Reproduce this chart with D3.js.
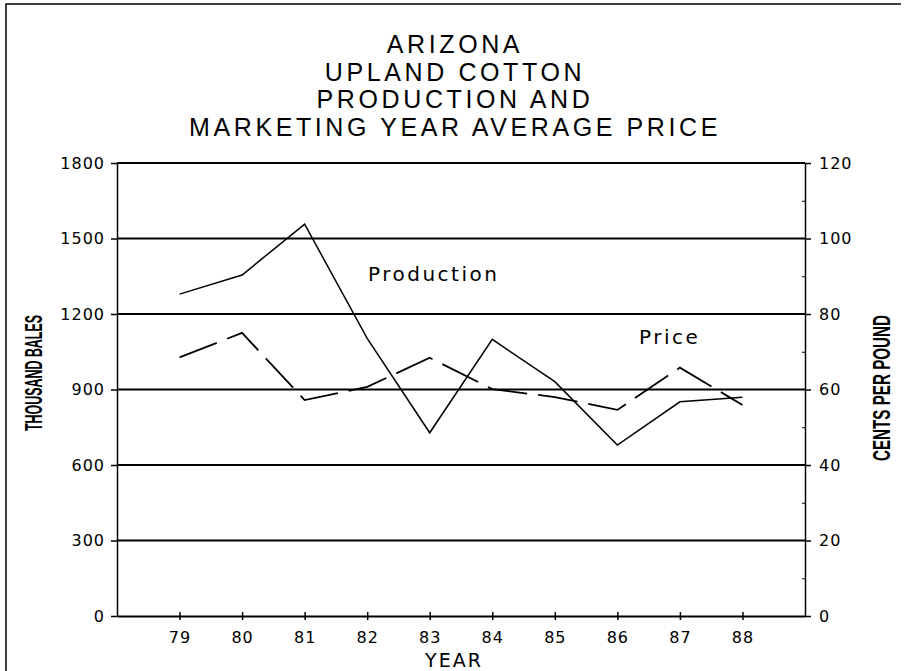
<!DOCTYPE html>
<html lang="en">
<head>
    <meta charset="UTF-8">
    <title>Arizona Upland Cotton</title>
    <script src="https://d3js.org/d3.v7.js"></script>
    <style>
        body { margin: 0; background: #fff; }
        svg { display: block; }
    </style>
</head>
<body>
<div id="my_dataviz"></div>
<script>
// data
const years = [79, 80, 81, 82, 83, 84, 85, 86, 87, 88];
const production = [1279, 1355, 1557, 1103, 728, 1099, 931, 679, 851, 869];
const price = [68.5, 75.0, 57.2, 60.7, 68.4, 60.1, 58.0, 54.6, 65.8, 55.9];
const leftTicks = [0, 300, 600, 900, 1200, 1500, 1800];
const rightTicks = [0, 20, 40, 60, 80, 100, 120];
const rightMinor = [10, 30, 50, 70, 90, 110];
const titleLines = ["ARIZONA", "UPLAND COTTON", "PRODUCTION AND", "MARKETING YEAR AVERAGE PRICE"];

const W = 906, H = 671;
const plot = { left: 117, right: 805, top: 163, bottom: 616 };

const svg = d3.select("#my_dataviz")
    .append("svg")
    .attr("width", W)
    .attr("height", H);

// frame (left + top only)
svg.append("path")
    .attr("d", `M6,${H} L6,4 L901,4`)
    .attr("fill", "none")
    .attr("stroke", "#000")
    .attr("stroke-width", 1.5);

// scales
let x = d3.scaleLinear().domain([78, 89]).range([plot.left, plot.right]);
let yL = d3.scaleLinear().domain([0, 1800]).range([plot.bottom, plot.top]);
let yR = d3.scaleLinear().domain([0, 120]).range([plot.bottom, plot.top]);

// title
svg.append("g")
    .selectAll("text")
    .data(titleLines)
    .enter()
    .append("text")
    .attr("x", 455)
    .attr("y", (d, i) => 53 + i * 27.7)
    .attr("text-anchor", "middle")
    .style("font-family", "Liberation Sans, Arial, sans-serif")
    .style("font-size", "25px")
    .style("letter-spacing", "3.6px")
    .text(d => d);

// gridlines
svg.append("g")
    .selectAll("line")
    .data(leftTicks.slice(1))
    .enter()
    .append("line")
    .attr("x1", plot.left)
    .attr("x2", plot.right)
    .attr("y1", d => yL(d))
    .attr("y2", d => yL(d))
    .attr("stroke", "#000")
    .attr("stroke-width", 2);

const tickFont = "DejaVu Sans, sans-serif";

// left axis
let gl = svg.append("g")
    .attr("transform", `translate(${plot.left},0)`)
    .call(d3.axisLeft(yL).tickValues(leftTicks).tickFormat(d3.format("d"))
        .tickSize(6).tickPadding(6).tickSizeOuter(0));
gl.select(".domain").attr("stroke-width", 1.5);
gl.selectAll(".tick line").attr("stroke-width", 1.5);
gl.selectAll("text").style("font-family", tickFont).style("font-size", "16px").style("letter-spacing", "1px");

// right axis
let gr = svg.append("g")
    .attr("transform", `translate(${plot.right},0)`)
    .call(d3.axisRight(yR).tickValues(rightTicks).tickSize(6).tickPadding(8).tickSizeOuter(0));
gr.select(".domain").attr("stroke-width", 1.5);
gr.selectAll(".tick line").attr("stroke-width", 1.5);
gr.selectAll("text").style("font-family", tickFont).style("font-size", "16px").style("letter-spacing", "1px");

svg.append("g")
    .attr("transform", `translate(${plot.right},0)`)
    .call(d3.axisLeft(yR).tickValues(rightMinor).tickSize(3).tickFormat("").tickSizeOuter(0))
    .select(".domain").remove();

// x axis
let gx = svg.append("g")
    .attr("transform", `translate(0,${plot.bottom})`)
    .call(d3.axisBottom(x).tickValues(years).tickSize(4).tickPadding(12).tickSizeOuter(0));
gx.select(".domain").attr("stroke-width", 2);
gx.selectAll(".tick line").attr("y1", -4).attr("stroke-width", 1.5);
gx.selectAll("text").style("font-family", tickFont).style("font-size", "16px").style("letter-spacing", "1px");

// axis titles
svg.append("text")
    .attr("x", 454)
    .attr("y", 667)
    .attr("text-anchor", "middle")
    .style("font-family", tickFont)
    .style("font-size", "19px")
    .style("letter-spacing", "2px")
    .text("YEAR");

svg.append("text")
    .attr("transform", "translate(42,373) rotate(-90)")
    .attr("text-anchor", "middle")
    .attr("textLength", 116)
    .attr("lengthAdjust", "spacingAndGlyphs")
    .style("font-family", "Liberation Sans Narrow, Liberation Sans, sans-serif")
    .style("font-weight", "bold")
    .style("font-size", "23px")
    .text("THOUSAND BALES");

svg.append("text")
    .attr("transform", "translate(890,388) rotate(-90)")
    .attr("text-anchor", "middle")
    .attr("textLength", 146)
    .attr("lengthAdjust", "spacingAndGlyphs")
    .style("font-family", "Liberation Sans Narrow, Liberation Sans, sans-serif")
    .style("font-weight", "bold")
    .style("font-size", "23px")
    .text("CENTS PER POUND");

// lines
let prodLine = d3.line()
    .x((d, i) => x(years[i]))
    .y(d => yL(d));

let priceLine = d3.line()
    .x((d, i) => x(years[i]))
    .y(d => yR(d));

svg.append("path")
    .datum(production)
    .attr("d", prodLine)
    .attr("fill", "none")
    .attr("stroke", "#000")
    .attr("stroke-width", 1.5);

svg.append("path")
    .datum(price)
    .attr("d", priceLine)
    .attr("fill", "none")
    .attr("stroke", "#000")
    .attr("stroke-width", 1.8)
    .attr("stroke-dasharray", "40,11");

// series labels
svg.append("text")
    .attr("x", 368)
    .attr("y", 281)
    .style("font-family", tickFont)
    .style("font-size", "20px")
    .style("letter-spacing", "2.5px")
    .text("Production");

svg.append("text")
    .attr("x", 639)
    .attr("y", 344)
    .style("font-family", tickFont)
    .style("font-size", "20px")
    .style("letter-spacing", "2.5px")
    .text("Price");
</script>
</body>
</html>
